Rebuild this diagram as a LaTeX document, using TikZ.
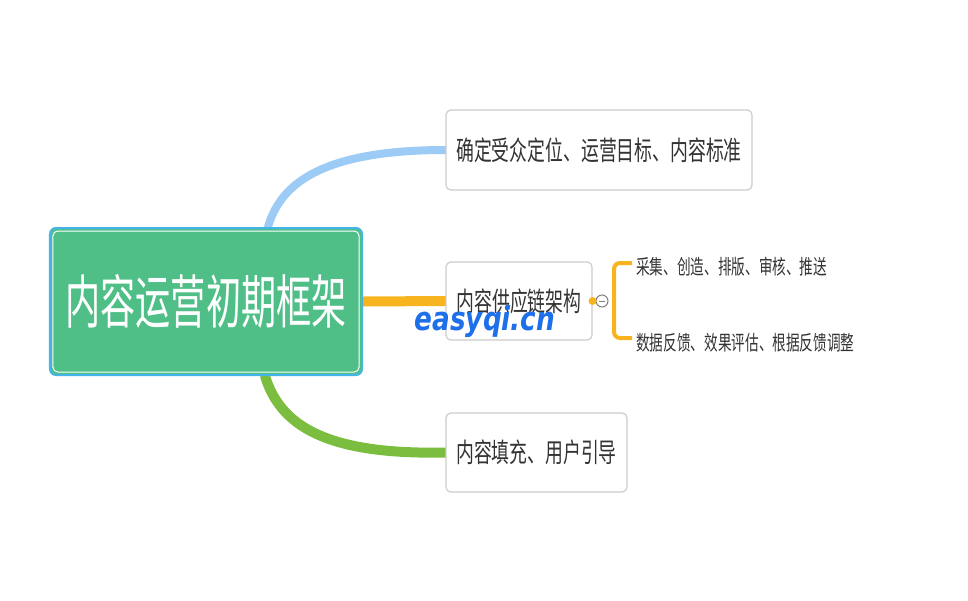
\documentclass[tikz,border=0pt]{standalone}
\usepackage{fontspec}
\usetikzlibrary{backgrounds}
\newfontfamily\cjk{Noto Sans CJK SC}
\newfontfamily\wmfont{DejaVu Sans}
\definecolor{rootgreen}{HTML}{4FBF87}
\definecolor{rootblue}{HTML}{45B4E6}
\definecolor{lineblue}{HTML}{9CCBF6}
\definecolor{lineorange}{HTML}{F7B41E}
\definecolor{linegreen}{HTML}{7BBD3F}
\definecolor{boxgray}{HTML}{CCCCCC}
\definecolor{textgray}{HTML}{333333}
\definecolor{markblue}{HTML}{1E6FEA}
\newcommand{\tall}[2][1.5]{\scalebox{1}[#1]{#2}}

\begin{document}
\begin{tikzpicture}[x=0.25mm,y=-0.25mm,
   rootbox/.style={draw=rootblue,line width=0.5mm,fill=rootgreen,rounded corners=1.5mm,
      text=white,inner sep=0pt,font=\cjk\fontsize{25}{25}\selectfont},
   topicbox/.style={draw=boxgray,line width=0.3mm,fill=white,rounded corners=1.2mm,
      text=textgray,inner sep=0pt,font=\cjk\fontsize{12.7}{13}\selectfont},
   subtext/.style={anchor=west,inner sep=0pt,text=textgray,font=\cjk\fontsize{9.7}{10}\selectfont},
   branch/.style={line width=#1,line cap=round}]

   \useasboundingbox (0,0) rectangle (968,600);

   % main topic
   \node[rootbox,minimum width=78mm,minimum height=36.75mm] (root) at (206,301.5) {\tall[1.65]{内容运营初期框架}};
   \draw[white,line width=0.25mm,rounded corners=1.2mm]
      ([shift={(4,4)}]root.north west) rectangle ([shift={(-4,-4)}]root.south east);

   % topics
   \node[topicbox,minimum width=76.5mm,minimum height=20mm] (goal) at (599,150) {\tall{确定受众定位、运营目标、内容标准}};
   \node[topicbox,minimum width=36.5mm,minimum height=19.5mm] (chain) at (519,301) {\tall{内容供应链架构}};
   \node[topicbox,minimum width=45.25mm,minimum height=19.75mm] (fill) at (536.5,452.5) {\tall{内容填充、用户引导}};

   % sub topics
   \node[subtext] (collect) at (636,267) {\tall{采集、创造、排版、审核、推送}};
   \node[subtext] (feedback) at (636,343) {\tall{数据反馈、效果评估、根据反馈调整}};

   % fold mark
   \node[circle,draw=gray,fill=white,line width=0.25mm,minimum size=3mm,inner sep=0pt] (fold) at (602,301) {};
   \draw[gray,line width=0.25mm] ([shift={(-3,0)}]fold.center) -- ([shift={(3,0)}]fold.center);

   \begin{scope}[on background layer]
   \draw[branch=2mm,lineblue] ([shift={(62,0)}]root.north) .. controls (280,185) and (320,150) .. (goal.west);
   \draw[branch=2.5mm,lineorange] (root.east) -- (chain.west);
   \draw[branch=2.5mm,linegreen] ([shift={(59,0)}]root.south) .. controls (280,425) and (325,455) .. (fill.west);
   \draw[lineorange,line width=0.4mm] (chain.east) -- (fold.west);
   \end{scope}
   \fill[lineorange] (chain.east) circle (4);

   % bracket
   \draw[lineorange,line width=1mm,rounded corners=1.5mm]
      ([shift={(-4,-4)}]collect.west) -| (614,301) |- ([shift={(-4,-5)}]feedback.west);

   % watermark
   \node[text=markblue,font=\wmfont\bfseries\itshape\fontsize{18.7}{19}\selectfont] (mark) at (485,322) {\tall[1.25]{easyqi.cn}};
\end{tikzpicture}
\end{document}
